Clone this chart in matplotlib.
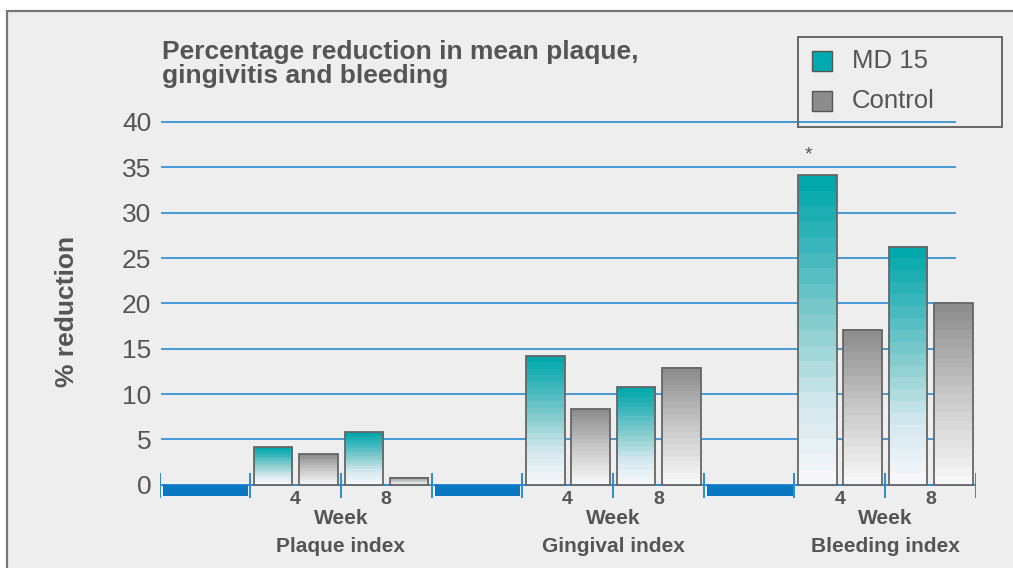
import numpy as np
import matplotlib.pyplot as plt
from matplotlib.colors import LinearSegmentedColormap
from matplotlib.patches import Rectangle

plt.rcParams['font.family'] = ['Liberation Sans', 'DejaVu Sans']

# data
indices = ['Plaque index', 'Gingival index', 'Bleeding index']
weeks = ['4', '8']
series = ['MD 15', 'Control']
md15 = [[4.15, 5.8], [14.2, 10.8], [34.15, 26.25]]
control = [[3.35, 0.8], [8.35, 12.9], [17.1, 20.0]]
yticks = [0, 5, 10, 15, 20, 25, 30, 35, 40]
title_lines = ['Percentage reduction in mean plaque,', 'gingivitis and bleeding']

TXT = '#555555'
BLUE = '#2a8bd2'
DARKBLUE = '#0a77c1'
EDGE = '#666666'

teal_cmap = LinearSegmentedColormap.from_list(
    'teal', ['#f6f6fb', '#d2e8ee', '#8ccfd0', '#45b9bf', '#00a8ac'])
gray_cmap = LinearSegmentedColormap.from_list(
    'grayg', ['#f7f7f7', '#c8c8c8', '#8e8e8e'])
colors = {'MD 15': (teal_cmap, '#00aab0'), 'Control': (gray_cmap, '#8c8c8c')}

W, H = 1013, 568
fig = plt.figure(figsize=(W / 100, H / 100), dpi=100)
fig.patch.set_facecolor('white')


def fx(px):
    return px / W


def fy(py):
    return 1 - py / H


# panel frame
fig.patches.append(Rectangle((fx(7), fy(H + 10)), 1.1, fy(11) - fy(H + 10),
                             transform=fig.transFigure, fc='#eeeeee',
                             ec='#777777', lw=1.6, zorder=-5))

ax = fig.add_axes([0.1575, 0.0986, 0.8058, 0.7026])
ax.set_zorder(1)
ax.set_facecolor('none')
for s in ax.spines.values():
    s.set_visible(False)

# grid
ax.hlines(yticks[1:], 0.02, 8.78, color=BLUE, lw=1.2, zorder=1)
ax.hlines(0, 0, 9, color=BLUE, lw=1.4, zorder=1)
ax.vlines(np.arange(10), -1.45, 1.3, color=BLUE, lw=1.4, zorder=4)

grad = np.linspace(0, 1, 20).reshape(-1, 1)
bw = 0.425
for g, name in enumerate(indices):
    start = 3 * g
    # dark blue placeholder bar in the first slot of each group
    ax.bar(start + 0.507, -1.25, width=0.944, bottom=0, color=DARKBLUE,
           zorder=3)
    for w, wk in enumerate(weeks):
        seg = start + 1 + w
        for k, (sname, vals) in enumerate(zip(series, [md15, control])):
            v = vals[g][w]
            x0 = seg + 0.04 + k * 0.5
            cmap = colors[sname][0]
            ax.imshow(grad, extent=[x0, x0 + bw, 0, v], origin='lower',
                      cmap=cmap, aspect='auto', interpolation='nearest',
                      zorder=2)
            ax.bar(x0, v, width=bw, align='edge', fill=False,
                   edgecolor=EDGE, lw=1.3, zorder=3)
        ax.text(seg + 0.5, -1.6, wk, ha='center', va='center', fontsize=14,
                fontweight='bold', color=TXT)
    ax.text(start + 2, -3.7, 'Week', ha='center', va='center', fontsize=15,
            fontweight='bold', color=TXT)
    ax.text(start + 2, -6.8, name, ha='center', va='center', fontsize=15,
            fontweight='bold', color=TXT)

ax.text(7.16, 36.4, '*', ha='center', va='center', fontsize=14, color=TXT)

ax.set_xlim(0, 9)
ax.set_ylim(-3, 41)
ax.set_xticks([])
ax.set_yticks(yticks)
ax.tick_params(axis='y', length=0, pad=6, labelsize=19, labelcolor=TXT)

fig.text(fx(67), fy(311), '% reduction', rotation=90, ha='center',
         va='center', fontsize=19, fontweight='bold', color=TXT)

fig.text(fx(162), fy(59.5), title_lines[0], va='baseline', ha='left',
         fontsize=19, fontweight='bold', color=TXT)
fig.text(fx(162), fy(83.5), title_lines[1], va='baseline', ha='left',
         fontsize=19, fontweight='bold', color=TXT)

# legend box
fig.patches.append(Rectangle((fx(798), fy(127)), fx(1002) - fx(798),
                             fy(37) - fy(127), transform=fig.transFigure,
                             fill=False, ec=EDGE, lw=1.4, zorder=5))
for i, sname in enumerate(series):
    cy = 61 + 40 * i
    fig.patches.append(Rectangle((fx(812), fy(cy + 10)), fx(20), 20 / H,
                                 transform=fig.transFigure,
                                 fc=colors[sname][1], ec='#555555', lw=1.0,
                                 zorder=5))
    fig.text(fx(852), fy(cy), sname, va='center', ha='left', fontsize=18.5,
             color=TXT)

fig.savefig('out.png', dpi=100)
